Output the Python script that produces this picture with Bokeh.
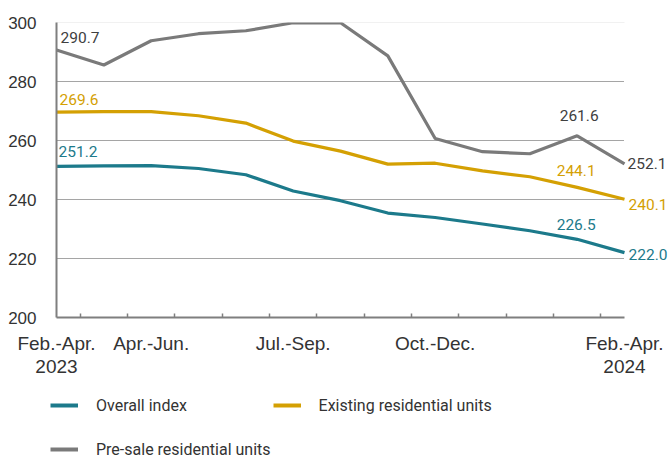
from bokeh.plotting import figure
from bokeh.layouts import column
from bokeh.models import (ColumnDataSource, FixedTicker, Legend, LegendItem, LabelSet)
from bokeh.core.properties import value
from bokeh.embed import file_html
from bokeh.resources import INLINE

periods = ["Feb.-Apr. 2023", "Mar.-May", "Apr.-Jun.", "May-Jul.", "Jun.-Aug.", "Jul.-Sep.",
           "Aug.-Oct.", "Sep.-Nov.", "Oct.-Dec.", "Nov.-Jan.", "Dec.-Feb.", "Jan.-Mar.", "Feb.-Apr. 2024"]
overall = [251.2, 251.4, 251.5, 250.5, 248.4, 242.9, 239.6, 235.4, 233.9, 231.7, 229.4, 226.5, 222.0]
existing = [269.6, 269.8, 269.8, 268.4, 265.9, 259.8, 256.4, 252.0, 252.3, 249.7, 247.7, 244.1, 240.1]
presale = [290.7, 285.6, 293.8, 296.2, 297.2, 299.9, 299.9, 288.7, 260.7, 256.2, 255.5, 261.6, 252.1]
tick_idx = [0, 2, 5, 8, 12]
tick_text = ["Feb.-Apr.\n2023", "Apr.-Jun.", "Jul.-Sep.", "Oct.-Dec.", "Feb.-Apr.\n2024"]
y_ticks = [200, 220, 240, 260, 280, 300]
series_names = ["Overall index", "Existing residential units", "Pre-sale residential units"]

C_OVR = "#1c7a8b"
C_EX = "#d4a003"
C_PRE = "#7a7a7a"
C_LAB = "#404040"
LABF = "Roboto"
REG = "Liberation Sans"

n = len(periods) - 1
PLOT_W = 568                       # width of the drawn axis span in px
FRAME_W = 614                      # frame extends to the right to host the end labels
x_end = n * FRAME_W / PLOT_W

x = list(range(len(periods)))
src = ColumnDataSource(dict(x=x, overall=overall, existing=existing, presale=presale))

p = figure(frame_width=FRAME_W, frame_height=295, output_backend="svg", toolbar_location=None,
           x_range=(0, x_end), y_range=(y_ticks[0], y_ticks[-1]),
           min_border_left=56, min_border_right=0, min_border_top=22, min_border_bottom=64)
p.frame_align = False
p.outline_line_color = None
p.background_fill_color = "white"
p.xgrid.grid_line_color = None
p.ygrid.grid_line_color = None

# gridlines (limited to the data span)
gy = y_ticks[1:-1]
p.segment(x0=[0] * len(gy), x1=[n] * len(gy), y0=gy, y1=gy,
          line_color="#4a4a4a", line_dash="1 1", line_width=1)
p.segment(x0=[0], x1=[n], y0=[y_ticks[-1]], y1=[y_ticks[-1]], line_color="#e3e3e3", line_width=1)

r1 = p.line("x", "overall", source=src, line_color=C_OVR, line_width=3.2)
r2 = p.line("x", "existing", source=src, line_color=C_EX, line_width=3.2)
r3 = p.line("x", "presale", source=src, line_color=C_PRE, line_width=3.2)

# axes
p.xaxis.bounds = (0, n)
p.xaxis.ticker = FixedTicker(ticks=tick_idx, minor_ticks=[i + 0.5 for i in range(n)])
p.xaxis.major_label_overrides = {i: t for i, t in zip(tick_idx, tick_text)}
p.xaxis.major_tick_line_color = None
p.xaxis.minor_tick_line_color = "#7f7f7f"
p.xaxis.minor_tick_in = 4
p.xaxis.minor_tick_out = 0
p.xaxis.minor_tick_line_width = 1.5
p.xaxis.axis_line_color = "#7f7f7f"
p.xaxis.axis_line_width = 2
p.xaxis.major_label_standoff = 9
p.xaxis.major_label_text_font = REG
p.xaxis.major_label_text_font_size = "19px"
p.xaxis.major_label_text_color = "#333333"
p.xaxis.major_label_text_line_height = 1.1

p.yaxis.ticker = FixedTicker(ticks=y_ticks)
p.yaxis.minor_tick_line_color = None
p.yaxis.major_tick_line_color = None
p.yaxis.axis_line_color = "#7f7f7f"
p.yaxis.axis_line_width = 2
p.yaxis.major_label_standoff = 14
p.yaxis.major_label_text_font = REG
p.yaxis.major_label_text_font_size = "17px"
p.yaxis.major_label_text_color = "#333333"

# value labels
def lab(series, i, color, align, dx, dy):
    s = ColumnDataSource(dict(x=[i], y=[series[i]], t=["%.1f" % series[i]]))
    p.add_layout(LabelSet(x="x", y="y", text="t", source=s, text_color=color,
                          text_font=value(LABF), text_font_size="15.5px", text_align=align,
                          text_baseline="alphabetic", x_offset=dx, y_offset=dy))

lab(presale, 0, C_LAB, "left", 4, 7)
lab(existing, 0, C_EX, "left", 3, 7.5)
lab(overall, 0, C_OVR, "left", 2, 9)
lab(presale, n - 1, C_LAB, "center", 2, 15)
lab(existing, n - 1, C_EX, "center", -1, 11)
lab(overall, n - 1, C_OVR, "center", -1, 9.5)
lab(presale, n, C_LAB, "left", 3, -5)
lab(existing, n, C_EX, "left", 4, -10.5)
lab(overall, n, C_OVR, "left", 4, -7)

# legend in its own strip below the chart (series drawn out of view there, only
# used as legend glyph sources)
q = figure(width=670, height=78, output_backend="svg", toolbar_location=None,
           x_range=(0, 1), y_range=(0, 1), x_axis_location=None, y_axis_location=None,
           min_border_left=50, min_border_right=0, min_border_top=3, min_border_bottom=0)
q.frame_align = False
q.outline_line_color = None
q.xgrid.grid_line_color = None
q.ygrid.grid_line_color = None
d1 = q.line("x", "overall", source=src, line_color=C_OVR, line_width=4)
d2 = q.line("x", "existing", source=src, line_color=C_EX, line_width=4)
d3 = q.line("x", "presale", source=src, line_color=C_PRE, line_width=4)
legend = Legend(items=[LegendItem(label=series_names[0], renderers=[d1]),
                       LegendItem(label=series_names[1], renderers=[d2]),
                       LegendItem(label=series_names[2], renderers=[d3])],
                orientation="horizontal", ncols=2, location="top_left",
                label_text_font=LABF, label_text_font_size="16px", label_text_color="#333333",
                glyph_width=28, glyph_height=42, label_standoff=18, label_width=60,
                label_height=42, spacing=2, padding=0, margin=0,
                border_line_color=None, background_fill_alpha=0)
q.add_layout(legend, "center")

layout = column(p, q, spacing=0)
open("out.html", "w").write(file_html(layout, INLINE))
